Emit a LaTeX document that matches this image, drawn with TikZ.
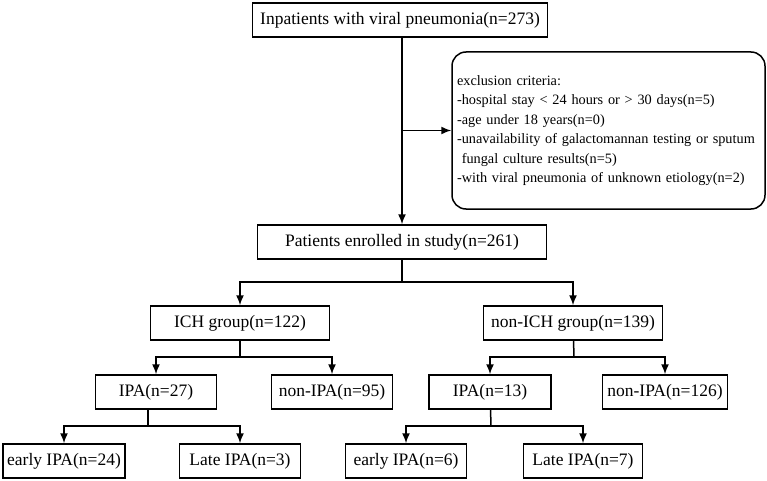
\documentclass[tikz,border=0pt]{standalone}
\usepackage{fontspec}
\setmainfont{Liberation Serif}
\usetikzlibrary{arrows.meta,positioning,calc}

\begin{document}
\begin{tikzpicture}[
    x=1pt, y=-1pt,
    box/.style={draw, line width=1.5pt, minimum height=34pt, inner sep=2pt, align=center, font=\fontsize{17.5}{20}\selectfont},
    crit/.style={draw, line width=1.5pt, rounded corners=14pt, align=left, text width=303pt, minimum height=157pt, inner sep=5pt, font=\fontsize{14.3}{19.5}\selectfont},
    arr/.style={-{Latex[length=10pt,width=8pt]}, line width=1.5pt},
    ln/.style={line width=1.5pt}
]
\useasboundingbox (0,0) rectangle (767,481);

\node[box, minimum width=295pt] (all) at (400,20) {Inpatients with viral pneumonia(n=273)};
\node[crit] (excl) at (608.5,130.5) {exclusion criteria:\\
-hospital stay < 24 hours or > 30 days(n=5)\\
-age under 18 years(n=0)\\
-unavailability of galactomannan testing or sputum\\
\ fungal culture results(n=5)\\
-with viral pneumonia of unknown etiology(n=2)};
\node[box, minimum width=289pt] (enrol) at (402,242) {Patients enrolled in study(n=261)};

\node[box, minimum width=179pt] (ich) at (240,323) {ICH group(n=122)};
\node[box, minimum width=179pt] (nich) at (573,323) {non-ICH group(n=139)};

\node[box, minimum width=121pt] (ipa1) at (156,392) {IPA(n=27)};
\node[box, minimum width=121pt] (nipa1) at (332,392) {non-IPA(n=95)};
\node[box, minimum width=122pt] (ipa2) at (490,392) {IPA(n=13)};
\node[box, minimum width=125pt] (nipa2) at (665,392) {non-IPA(n=126)};

\node[box, minimum width=122pt] (early1) at (64,461) {early IPA(n=24)};
\node[box, minimum width=121pt] (late1) at (240,461) {Late IPA(n=3)};
\node[box, minimum width=121pt] (early2) at (406,461) {early IPA(n=6)};
\node[box, minimum width=119pt] (late2) at (583,461) {Late IPA(n=7)};

% branching points
\coordinate (b0) at (402,282);
\coordinate (b1) at (240,357);
\coordinate (b2) at (574,357);
\coordinate (b3) at (148,426);
\coordinate (b4) at (491,426);

\draw[arr] (all.south -| enrol) -- (enrol);
\draw[arr] (enrol |- excl.west) -- (excl.west);

\draw[ln] (enrol) -- (b0);
\draw[arr] (b0) -| (ich);
\draw[arr] (b0) -| (nich);

\draw[ln] (ich) -- (b1);
\draw[arr] (b1) -| (ipa1);
\draw[arr] (b1) -| (nipa1);
\draw[ln] (nich) -- (b2);
\draw[arr] (b2) -| (ipa2);
\draw[arr] (b2) -| (nipa2);

\draw[ln] (ipa1.south -| b3) -- (b3);
\draw[arr] (b3) -| (early1);
\draw[arr] (b3) -| (late1);
\draw[ln] (ipa2) -- (b4);
\draw[arr] (b4) -| (early2);
\draw[arr] (b4) -| (late2);
\end{tikzpicture}
\end{document}
